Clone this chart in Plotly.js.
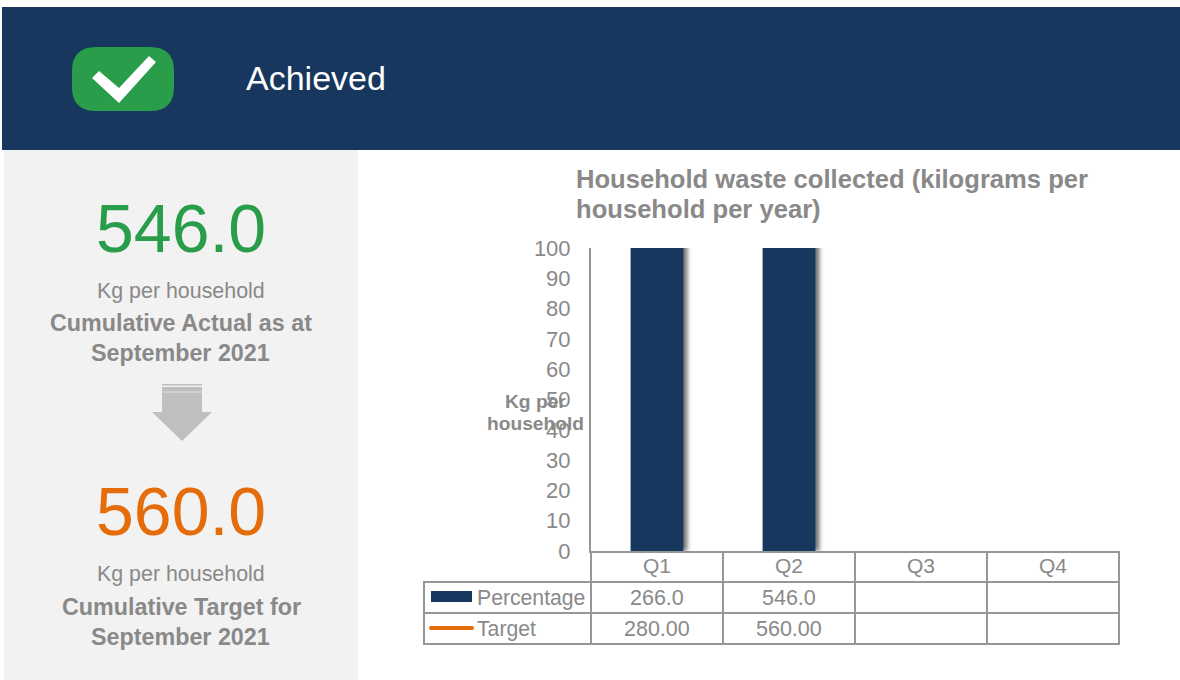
<!DOCTYPE html>
<html>
<head>
<meta charset="utf-8">
<script src="https://cdn.plot.ly/plotly-3.0.1.min.js"></script>
<style>html,body{margin:0;padding:0;background:#fff;overflow:hidden}#chart{width:1180px;height:680px}</style>
</head>
<body>
<div id="chart"></div>
<script>
const categories = ['Q1', 'Q2', 'Q3', 'Q4'];
const percentage = [266.0, 546.0, null, null];
const target = [280.0, 560.0, null, null];
const actualValue = 546.0;
const targetValue = 560.0;
const yTicks = [0, 10, 20, 30, 40, 50, 60, 70, 80, 90, 100];

const W = 1180, H = 680;
const NAVY = '#17375e', GREEN = '#2a9d4b', ORANGE = '#e46c0a', GREY = '#898989', LINE = '#969696';
const FONT = '"Liberation Sans", Arial, sans-serif';
const fx = p => p / W, fy = p => 1 - p / H;

function rect(x0, y0, x1, y1, color) {
  return {type: 'rect', xref: 'paper', yref: 'paper', x0: fx(x0), x1: fx(x1), y0: fy(y0), y1: fy(y1),
          fillcolor: color, line: {width: 0}, layer: 'below'};
}
function seg(x0, y0, x1, y1, color, width) {
  return {type: 'line', xref: 'paper', yref: 'paper', x0: fx(x0), x1: fx(x1), y0: fy(y0), y1: fy(y1),
          line: {color: color || LINE, width: width || 2}, layer: 'above'};
}
function poly(points, color) {
  const d = points.map((p, i) => (i ? 'L' : 'M') + fx(p[0]) + ',' + fy(p[1])).join(' ') + ' Z';
  return {type: 'path', xref: 'paper', yref: 'paper', path: d, fillcolor: color, line: {width: 0}, layer: 'above'};
}
function roundRect(x0, y0, x1, y1, r, color) {
  const q = (cx, cy, x, y) => `Q${fx(cx)},${fy(cy)} ${fx(x)},${fy(y)}`;
  const d = `M${fx(x0 + r)},${fy(y0)} L${fx(x1 - r)},${fy(y0)} ${q(x1, y0, x1, y0 + r)} L${fx(x1)},${fy(y1 - r)} ${q(x1, y1, x1 - r, y1)} L${fx(x0 + r)},${fy(y1)} ${q(x0, y1, x0, y1 - r)} L${fx(x0)},${fy(y0 + r)} ${q(x0, y0, x0 + r, y0)} Z`;
  return {type: 'path', xref: 'paper', yref: 'paper', path: d, fillcolor: color, line: {width: 0}, layer: 'above'};
}
function label(text, x, y, size, color, opts) {
  return Object.assign({text, xref: 'paper', yref: 'paper', x: fx(x), y: fy(y), xanchor: 'center', yanchor: 'middle',
    showarrow: false, font: {family: FONT, size, color}, align: 'center'}, opts || {});
}

const tableX = [591, 723, 855, 987, 1119];
const shapes = [
  rect(2, 7, 1180, 150, NAVY),
  rect(4, 150, 358, 680, '#f2f2f2'),
  roundRect(72, 47, 174, 111, 24, GREEN),
  poly([[92, 78], [99, 71], [119, 88], [149, 56], [156, 62], [119, 103]], '#ffffff'),
  poly([[162, 387], [202, 387], [202, 412], [212, 412], [182, 441], [152, 412], [162, 412]], '#bfbfbf'),
  rect(162, 384, 202, 385.5, '#bfbfbf'),
  seg(162, 392, 202, 392, '#d6d6d6', 1.5),
  seg(424, 582, 1119, 582), seg(424, 613, 1119, 613), seg(424, 644, 1119, 644),
  seg(424, 581, 424, 645),
  ...tableX.map(x => seg(x, 551, x, 645)),
  Object.assign(rect(431, 591, 472, 602, NAVY), {layer: 'above'}),
  roundRect(429, 626, 474, 630, 2, ORANGE),
];

const annotations = [
  label('Achieved', 244, 78, 34, '#ffffff', {xanchor: 'left'}),
  label(actualValue.toFixed(1), 181, 228, 68, GREEN),
  label('Kg per household', 181, 290.5, 21.4, GREY),
  label('<b>Cumulative Actual as at</b>', 181, 322.5, 23.3, GREY),
  label('<b>September 2021</b>', 180, 352.5, 23.3, GREY),
  label(targetValue.toFixed(1), 181, 511, 68, ORANGE),
  label('Kg per household', 181, 573.5, 21.4, GREY),
  label('<b>Cumulative Target for</b>', 181, 606.5, 23.3, GREY),
  label('<b>September 2021</b>', 180, 636.5, 23.3, GREY),
  label('<b>Household waste collected (kilograms per</b>', 574, 179, 25.6, GREY, {xanchor: 'left'}),
  label('<b>household per year)</b>', 574, 209, 25.6, GREY, {xanchor: 'left'}),
  label('<b>Kg per</b>', 535.5, 401.5, 19.2, GREY),
  label('<b>household</b>', 535.5, 423.5, 19.2, GREY),
  label('Percentage', 475, 597.5, 21.2, GREY, {xanchor: 'left'}),
  label('Target', 475, 628.5, 21.2, GREY, {xanchor: 'left'}),
];
categories.forEach((c, i) => {
  const base = {xref: 'x', x: c, showarrow: false, yref: 'paper', xanchor: 'center', yanchor: 'middle',
                font: {family: FONT, size: 21.5, color: GREY}};
  if (percentage[i] !== null) annotations.push(Object.assign({}, base, {text: percentage[i].toFixed(1), y: fy(597.5)}));
  if (target[i] !== null) annotations.push(Object.assign({}, base, {text: target[i].toFixed(2), y: fy(628.5)}));
});

const data = [
  {type: 'bar', name: 'Percentage', x: categories, y: percentage, width: 0.4,
   marker: {color: NAVY, line: {width: 0}}, hoverinfo: 'skip'},
  {type: 'scatter', mode: 'lines', name: 'Target', x: categories, y: target,
   line: {color: ORANGE, width: 3}, hoverinfo: 'skip'}
];
const layout = {
  width: W, height: H, autosize: false,
  margin: {l: 0, r: 0, t: 0, b: 0, pad: 0},
  paper_bgcolor: '#ffffff', plot_bgcolor: 'rgba(0,0,0,0)',
  showlegend: false, font: {family: FONT, color: GREY},
  xaxis: {domain: [591 / W, 1119 / W], type: 'category', categoryorder: 'array', categoryarray: categories,
          range: [-0.5, 3.5], showgrid: false, zeroline: false, showline: true, linecolor: LINE, linewidth: 2,
          ticks: '', tickfont: {family: FONT, size: 21, color: GREY}, ticklabelstandoff: -5, fixedrange: true},
  yaxis: {domain: [1 - 551 / H, 1 - 248 / H], range: [0, 100], tickvals: yTicks, showgrid: false, zeroline: false,
          showline: true, linecolor: LINE, linewidth: 2, ticks: '', ticklabelstandoff: 14,
          tickfont: {family: FONT, size: 22, color: GREY}, fixedrange: true},
  shapes, annotations
};
Plotly.newPlot('chart', data, layout, {displayModeBar: false, staticPlot: true}).then(() => {
  document.querySelectorAll('#chart .barlayer .point path').forEach(p => {
    p.style.filter = 'drop-shadow(4px 0 2px rgba(0,0,0,0.55))';
  });
});
</script>
</body>
</html>
